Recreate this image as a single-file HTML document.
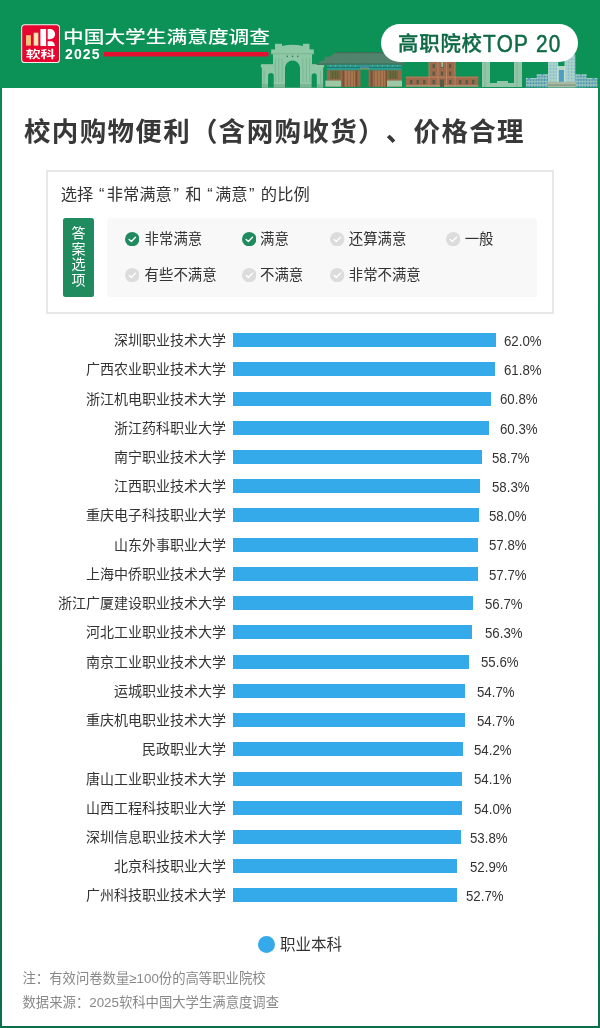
<!DOCTYPE html>
<html lang="zh-CN">
<head>
<meta charset="utf-8">
<title>校内购物便利（含网购收货）、价格合理</title>
<style>
*{margin:0;padding:0;box-sizing:border-box}
html,body{width:600px;height:1028px;overflow:hidden;background:#fff}
body{position:relative;text-spacing-trim:space-all;-webkit-font-smoothing:antialiased;font-family:"Liberation Sans","Noto Sans CJK SC",sans-serif;color:#333}
#root{position:absolute;left:0;top:0;width:600px;height:1028px;will-change:transform}
#frame{position:absolute;left:0;top:0;width:600px;height:1028px;background:linear-gradient(#0b8a4f 0,#088250 500px,#0a7049 1028px)}
#header{position:absolute;left:0;top:0;width:600px;height:88px;background:#0c9257}
.abs{position:absolute;white-space:nowrap}
#htitle{left:63px;top:25.5px;font-size:20px;line-height:28px;color:#fff;font-weight:500;transform-origin:0 0;transform:scale(1.035,0.83)}
#hyear{left:65px;top:45.5px;font-size:14px;line-height:16px;color:#fff;font-weight:700;letter-spacing:1.1px;font-family:"Liberation Sans",sans-serif}
#pill{left:381px;top:24px;width:197px;height:37.8px;border-radius:18.9px;background:#fff}
#pilltxt{left:398px;top:28px;font-size:20.4px;line-height:30px;color:#0f6a45;font-weight:500;letter-spacing:0.8px;-webkit-text-stroke:0.35px #0f6a45}
#pilltxt b{display:inline-block;position:relative;top:0.8px;font-family:"Liberation Sans",sans-serif;font-size:23.6px;font-weight:400;letter-spacing:1.5px;margin-left:0;transform-origin:0 60%;transform:scaleX(0.88);-webkit-text-stroke:0.5px #0f6a45}
#panel{position:absolute;left:2px;top:88px;width:596px;height:938px;background:#fff}
#title{left:24px;top:114px;font-size:26.5px;line-height:36px;letter-spacing:1.33px;font-weight:700;color:#383838}
#box{position:absolute;left:46px;top:170px;width:508px;height:144px;border:2px solid #e8e8e8}
#sub{left:60.7px;top:183px;font-size:16.3px;line-height:22px;color:#333}
.qo,.qc{display:inline-block;width:13.4px;font-family:"Liberation Sans",sans-serif}
.qo{text-align:right;padding-right:2.2px}
.qc{text-align:left;padding-left:1.6px}
#tag{position:absolute;left:63px;top:218px;width:31px;height:79px;background:#1f8b5f;border-radius:2.5px;color:#fff;font-size:14px;line-height:15.5px;text-align:center;padding-top:8px}
#gbox{position:absolute;left:106.7px;top:218px;width:430px;height:78.6px;background:#f8f8f8;border-radius:3px}
.it{position:absolute;font-size:14.4px;line-height:20px;color:#333;white-space:nowrap}
.ic{position:absolute;width:14.4px;height:14.4px}
.lb{position:absolute;right:374px;font-size:14px;line-height:22px;color:#333;white-space:nowrap;text-align:right}
.bar{position:absolute;left:233.3px;height:14px;background:#34aaea}
.vl{position:absolute;font-size:15.5px;line-height:22px;color:#333;white-space:nowrap;transform-origin:0 50%;transform:scaleX(0.855)}
#legdot{position:absolute;left:257.5px;top:935.5px;width:17.2px;height:17.2px;border-radius:50%;background:#34aaea}
#legtxt{left:280px;top:933.8px;font-size:15.5px;line-height:22px;color:#333}
.note{left:22.5px;font-size:13.35px;line-height:20px;color:#888}
</style>
</head>
<body>
<div id="root">
<div id="frame"></div>
<div id="header"></div>
<svg class="abs" style="left:0;top:0" width="600" height="88" viewBox="0 0 600 88">
  <rect x="104" y="51.9" width="164.4" height="4.6" fill="#e3102f"/>
  <!-- logo -->
  <rect x="21.2" y="24.2" width="38.8" height="38.8" rx="3.6" fill="#fbeef0"/>
  <rect x="22.2" y="25.2" width="36.8" height="36.8" rx="2.8" fill="#e6062f"/>
  <rect x="26" y="35.2" width="4.9" height="10.4" fill="#f6c27c"/>
  <rect x="33.7" y="32.7" width="4.6" height="12.9" fill="#fde5b3"/>
  <rect x="40.4" y="29" width="5.7" height="17" fill="#fff"/>
  <path d="M47.7 29H50A5.1 5.1 0 0 1 50 39.2H47.7Z" fill="#fff"/>
  <path d="M47.7 41.2H50.3Q54.8 41.2 54.8 46H47.7Z" fill="#fff"/>
  <text x="25.7" y="58.3" font-size="12" font-weight="700" fill="#fff" font-family="Liberation Sans, Noto Sans CJK SC, sans-serif" textLength="29.6" lengthAdjust="spacingAndGlyphs" transform="translate(0 58.3) scale(1 0.86) translate(0 -58.3)">软科</text>
</svg>
<div id="htitle" class="abs">中国大学生满意度调查</div>
<div id="hyear" class="abs">2025</div>
<svg class="abs" style="left:0;top:0" width="600" height="88" viewBox="0 0 600 88">
  <!-- Tsinghua gate -->
  <g fill="#8fc8a5">
    <rect x="275" y="43.8" width="7" height="7"/>
    <rect x="303" y="43.8" width="6.5" height="7"/>
    <path d="M282 50V46Q292.5 43.5 303 46V50Z"/>
    <rect x="271.2" y="49.4" width="42.6" height="4.4"/>
    <rect x="273" y="53.5" width="39" height="34"/>
    <rect x="261.9" y="64.4" width="11.5" height="23.1"/>
    <rect x="311.5" y="64.4" width="11.6" height="23.1"/>
    <rect x="260.8" y="64.4" width="13" height="3"/>
    <rect x="311.2" y="64.4" width="13" height="3"/>
  </g>
  <g fill="#7db694">
    <rect x="274.8" y="58" width="1" height="24"/>
    <rect x="278.2" y="58" width="1" height="24"/>
    <rect x="281.6" y="58" width="1" height="24"/>
    <rect x="302.4" y="58" width="1" height="24"/>
    <rect x="305.8" y="58" width="1" height="24"/>
    <rect x="309.2" y="58" width="1" height="24"/>
    <rect x="263.5" y="70" width="1.2" height="17"/>
    <rect x="320" y="70" width="1.2" height="17"/>
    <rect x="271.2" y="53.4" width="42.6" height="1"/>
    <rect x="273" y="84" width="39" height="3.5"/>
    <rect x="261.9" y="84" width="11.5" height="3.5"/>
    <rect x="311.5" y="84" width="11.6" height="3.5"/>
  </g>
  <g fill="#3f7a5c">
    <rect x="286.6" y="55.6" width="1.4" height="1.5"/>
    <rect x="291.8" y="55.6" width="1.4" height="1.5"/>
    <rect x="297" y="55.6" width="1.4" height="1.5"/>
  </g>
  <g fill="#0c9257">
    <path d="M285 87.6V68.1A7.5 7.5 0 0 1 300 68.1V87.6Z"/>
    <path d="M268.1 87.6V75.9A2.8 2.8 0 0 1 273.7 75.9V87.6Z"/>
    <path d="M311.6 87.6V75.9A2.6 2.6 0 0 1 316.8 75.9V87.6Z"/>
  </g>
  <!-- Chinese hall -->
  <defs>
    <pattern id="tile" x="0" y="0" width="2.2" height="10" patternUnits="userSpaceOnUse"><rect width="2.2" height="10" fill="#52836d"/><rect x="1.4" width="0.8" height="10" fill="#48786232"/></pattern>
    <pattern id="door" x="0" y="0" width="3" height="10" patternUnits="userSpaceOnUse"><rect width="3" height="10" fill="#a8774f"/><rect x="2.3" width="0.7" height="10" fill="#8a5c3d"/></pattern>
  </defs>
  <path d="M336.4 52.1H400L405 64.8H316.6L320 61.5L324.5 60.2L324.5 57L330 56.5Z" fill="url(#tile)"/>
  <path d="M336.4 52.1H398V53.2H335Z" fill="#3f6e59"/>
  <rect x="316.6" y="63.4" width="88" height="1.4" fill="#3f715b"/>
  <rect x="326.9" y="64.8" width="75" height="5.5" fill="#2b9c8e"/>
  <rect x="326.9" y="66.9" width="75" height="1.1" fill="#1d7b70"/>
  <g fill="#5fc0b0"><rect x="330" y="65.3" width="1" height="1.2"/><rect x="335" y="65.3" width="1" height="1.2"/><rect x="340" y="65.3" width="1" height="1.2"/><rect x="345" y="65.3" width="1" height="1.2"/><rect x="350" y="65.3" width="1" height="1.2"/><rect x="355" y="65.3" width="1" height="1.2"/><rect x="372" y="65.3" width="1" height="1.2"/><rect x="377" y="65.3" width="1" height="1.2"/><rect x="382" y="65.3" width="1" height="1.2"/><rect x="387" y="65.3" width="1" height="1.2"/><rect x="392" y="65.3" width="1" height="1.2"/><rect x="397" y="65.3" width="1" height="1.2"/></g>
  <rect x="326.9" y="70.3" width="75" height="16.4" fill="#98684a"/>
  <rect x="330" y="70.8" width="10.3" height="8.2" fill="#6b6a40"/>
  <rect x="387.8" y="70.8" width="10.3" height="8.2" fill="#6b6a40"/>
  <g fill="#57562f"><rect x="332.5" y="70.8" width="0.6" height="8.2"/><rect x="335" y="70.8" width="0.6" height="8.2"/><rect x="337.5" y="70.8" width="0.6" height="8.2"/><rect x="390.3" y="70.8" width="0.6" height="8.2"/><rect x="392.8" y="70.8" width="0.6" height="8.2"/><rect x="395.3" y="70.8" width="0.6" height="8.2"/></g>
  <rect x="325.3" y="80.6" width="15.7" height="6" fill="#9cc8a6"/>
  <rect x="387" y="80.6" width="15" height="6" fill="#9cc8a6"/>
  <rect x="344" y="71" width="11.4" height="15.6" fill="url(#door)"/>
  <rect x="373.6" y="71" width="11.9" height="15.6" fill="url(#door)"/>
  <g fill="#7a5035">
    <rect x="355.4" y="70.3" width="2" height="16.4"/>
    <rect x="370.6" y="70.3" width="2" height="16.4"/>
    <rect x="342.5" y="70.3" width="1.5" height="16.4"/>
    <rect x="385.5" y="70.3" width="1.5" height="16.4"/>
  </g>
  <rect x="360.5" y="68.5" width="8" height="18.2" fill="#0c9257"/>
  <rect x="360" y="65.6" width="9" height="3.2" fill="#3e8f9c"/>
  <rect x="360" y="68.6" width="9" height="0.8" fill="#b8a040"/>
  <!-- brown building -->
  <rect x="405.8" y="76.7" width="72.5" height="9.9" fill="#9e6a4c"/>
  <rect x="429" y="61" width="26" height="25.6" fill="#9e6a4c"/>
  <rect x="405.8" y="85.2" width="72.5" height="1.4" fill="#a99a7e"/>
  <rect x="405.8" y="76.7" width="72.5" height="1" fill="#b8805e"/>
  <g fill="#5a5a45">
    <rect x="410" y="80" width="2.4" height="4"/><rect x="416.5" y="80" width="2.4" height="4"/><rect x="423" y="80" width="2.4" height="4"/>
    <rect x="459" y="80" width="2.4" height="4"/><rect x="465.5" y="80" width="2.4" height="4"/><rect x="472" y="80" width="2.4" height="4"/>
    <rect x="432.5" y="64" width="2.4" height="4"/><rect x="440.8" y="64" width="2.4" height="4"/><rect x="449" y="64" width="2.4" height="4"/>
    <rect x="432.5" y="71.5" width="2.4" height="4"/><rect x="440.8" y="71.5" width="2.4" height="4"/><rect x="449" y="71.5" width="2.4" height="4"/>
    <rect x="432.5" y="80" width="2.4" height="4"/><rect x="440" y="79.5" width="4" height="7.6"/><rect x="449" y="80" width="2.4" height="4"/>
  </g>
  <g fill="#c08a68">
    <rect x="428.6" y="61" width="0.8" height="26"/><rect x="454.6" y="61" width="0.8" height="26"/>
    <rect x="437.6" y="61" width="0.8" height="26"/><rect x="446.2" y="61" width="0.8" height="26"/>
  </g>
  <rect x="441.3" y="61" width="1.6" height="6" fill="#8fc8a5"/>
  <!-- pale gate 2 -->
  <g fill="#93c5a8">
    <rect x="482" y="62" width="8" height="25"/>
    <rect x="514" y="62" width="8" height="25"/>
    <rect x="490" y="83" width="24" height="4"/>
    <rect x="497" y="81" width="11" height="4"/>
  </g>
  <g fill="#7fb596">
    <rect x="484.5" y="62" width="1" height="25"/><rect x="516.5" y="62" width="1" height="25"/>
  </g>
  <!-- modern building -->
  <defs>
    <pattern id="pw" x="0" y="0" width="3" height="3.2" patternUnits="userSpaceOnUse"><rect width="3" height="3.2" fill="#b4d8c6"/><rect x="0.6" y="0.6" width="1.9" height="2.1" fill="#86bccf"/></pattern>
    <pattern id="pw2" x="0" y="0" width="2.8" height="3.4" patternUnits="userSpaceOnUse"><rect width="2.8" height="3.4" fill="#a5cdbb"/><rect x="0.5" y="0.5" width="1.8" height="2.3" fill="#3e8db6"/></pattern>
  </defs>
  <rect x="525.9" y="78.6" width="71.5" height="8.6" fill="url(#pw2)"/>
  <rect x="536.7" y="74.8" width="50" height="12.4" fill="url(#pw2)"/>
  <rect x="525.9" y="78.3" width="10.8" height="0.8" fill="#c4e0d2"/>
  <rect x="586.7" y="78.3" width="10.8" height="0.8" fill="#c4e0d2"/>
  <rect x="536.7" y="74.5" width="11.3" height="0.8" fill="#c4e0d2"/>
  <rect x="575.3" y="74.5" width="11.4" height="0.8" fill="#c4e0d2"/>
  <rect x="548" y="60" width="9.5" height="27.2" fill="url(#pw)"/>
  <rect x="557.5" y="66" width="7.6" height="21.2" fill="#b4d8c6"/>
  <rect x="558.8" y="70" width="5.1" height="12" fill="#4f9dc4"/>
  <path d="M565.1 87.2V57L575.3 54.5V87.2Z" fill="url(#pw)"/>
  <rect x="557.2" y="60" width="0.9" height="27" fill="#d0e8dc"/>
  <rect x="564.6" y="57" width="0.9" height="30" fill="#d0e8dc"/>
  <rect x="547.4" y="81.7" width="28.5" height="5.5" fill="#a9b9a2"/>
  <rect x="547.4" y="84.6" width="28.5" height="0.9" fill="#6e8a76"/>
  <g fill="#3e8db6"><circle cx="529" cy="78.4" r="0.9"/><circle cx="542.4" cy="74.6" r="0.9"/><circle cx="581" cy="74.6" r="0.9"/><circle cx="593.6" cy="78.4" r="0.9"/></g>
</svg>

<div id="pill" class="abs"></div>
<div id="pilltxt" class="abs">高职院校<b>TOP 20</b></div>

<div id="panel"></div>
<div id="title" class="abs">校内购物便利（含网购收货）、价格合理</div>
<div id="box"></div>
<div id="sub" class="abs">选择<span class="qo">“</span>非常满意<span class="qc">”</span>和<span class="qo">“</span>满意<span class="qc">”</span>的比例</div>
<div id="tag">答<br>案<br>选<br>项</div>
<div id="gbox"></div>

<svg class="ic" style="left:125px;top:231.6px" viewBox="0 0 14 14"><circle cx="7" cy="7" r="7" fill="#1f8b5f"/><path d="M4 7.2L6.2 9.2L10.2 5.2" stroke="#fff" stroke-width="1.35" fill="none" stroke-linecap="round" stroke-linejoin="round"/></svg>
<div class="it" style="left:144.6px;top:229px">非常满意</div>
<svg class="ic" style="left:241.6px;top:231.6px" viewBox="0 0 14 14"><circle cx="7" cy="7" r="7" fill="#1f8b5f"/><path d="M4 7.2L6.2 9.2L10.2 5.2" stroke="#fff" stroke-width="1.35" fill="none" stroke-linecap="round" stroke-linejoin="round"/></svg>
<div class="it" style="left:260px;top:229px">满意</div>
<svg class="ic" style="left:330.2px;top:231.6px" viewBox="0 0 14 14"><circle cx="7" cy="7" r="7" fill="#dcdcdc"/><path d="M4 7.2L6.2 9.2L10.2 5.2" stroke="#fff" stroke-width="1.35" fill="none" stroke-linecap="round" stroke-linejoin="round"/></svg>
<div class="it" style="left:348.8px;top:229px">还算满意</div>
<svg class="ic" style="left:446px;top:231.6px" viewBox="0 0 14 14"><circle cx="7" cy="7" r="7" fill="#dcdcdc"/><path d="M4 7.2L6.2 9.2L10.2 5.2" stroke="#fff" stroke-width="1.35" fill="none" stroke-linecap="round" stroke-linejoin="round"/></svg>
<div class="it" style="left:464.7px;top:229px">一般</div>
<svg class="ic" style="left:125px;top:267.8px" viewBox="0 0 14 14"><circle cx="7" cy="7" r="7" fill="#dcdcdc"/><path d="M4 7.2L6.2 9.2L10.2 5.2" stroke="#fff" stroke-width="1.35" fill="none" stroke-linecap="round" stroke-linejoin="round"/></svg>
<div class="it" style="left:144.6px;top:265px">有些不满意</div>
<svg class="ic" style="left:241.6px;top:267.8px" viewBox="0 0 14 14"><circle cx="7" cy="7" r="7" fill="#dcdcdc"/><path d="M4 7.2L6.2 9.2L10.2 5.2" stroke="#fff" stroke-width="1.35" fill="none" stroke-linecap="round" stroke-linejoin="round"/></svg>
<div class="it" style="left:260px;top:265px">不满意</div>
<svg class="ic" style="left:330.2px;top:267.8px" viewBox="0 0 14 14"><circle cx="7" cy="7" r="7" fill="#dcdcdc"/><path d="M4 7.2L6.2 9.2L10.2 5.2" stroke="#fff" stroke-width="1.35" fill="none" stroke-linecap="round" stroke-linejoin="round"/></svg>
<div class="it" style="left:348.8px;top:265px">非常不满意</div>

<div class="lb" style="top:329.0px">深圳职业技术大学</div><div class="bar" style="top:333.0px;width:262.7px"></div><div class="vl" style="top:329.8px;left:503.5px">62.0%</div>
<div class="lb" style="top:358.2px">广西农业职业技术大学</div><div class="bar" style="top:362.2px;width:261.8px"></div><div class="vl" style="top:359.0px;left:503.5px">61.8%</div>
<div class="lb" style="top:387.5px">浙江机电职业技术大学</div><div class="bar" style="top:391.5px;width:257.6px"></div><div class="vl" style="top:388.3px;left:499.8px">60.8%</div>
<div class="lb" style="top:416.7px">浙江药科职业大学</div><div class="bar" style="top:420.7px;width:255.5px"></div><div class="vl" style="top:417.5px;left:499.8px">60.3%</div>
<div class="lb" style="top:445.9px">南宁职业技术大学</div><div class="bar" style="top:449.9px;width:248.7px"></div><div class="vl" style="top:446.7px;left:492.3px">58.7%</div>
<div class="lb" style="top:475.1px">江西职业技术大学</div><div class="bar" style="top:479.1px;width:247.0px"></div><div class="vl" style="top:475.9px;left:492.3px">58.3%</div>
<div class="lb" style="top:504.4px">重庆电子科技职业大学</div><div class="bar" style="top:508.4px;width:245.7px"></div><div class="vl" style="top:505.2px;left:488.5px">58.0%</div>
<div class="lb" style="top:533.6px">山东外事职业大学</div><div class="bar" style="top:537.6px;width:244.9px"></div><div class="vl" style="top:534.4px;left:488.5px">57.8%</div>
<div class="lb" style="top:562.8px">上海中侨职业技术大学</div><div class="bar" style="top:566.8px;width:244.5px"></div><div class="vl" style="top:563.6px;left:488.5px">57.7%</div>
<div class="lb" style="top:592.1px">浙江广厦建设职业技术大学</div><div class="bar" style="top:596.1px;width:240.2px"></div><div class="vl" style="top:592.9px;left:484.8px">56.7%</div>
<div class="lb" style="top:621.3px">河北工业职业技术大学</div><div class="bar" style="top:625.3px;width:238.5px"></div><div class="vl" style="top:622.1px;left:484.6px">56.3%</div>
<div class="lb" style="top:650.5px">南京工业职业技术大学</div><div class="bar" style="top:654.5px;width:235.6px"></div><div class="vl" style="top:651.3px;left:481.0px">55.6%</div>
<div class="lb" style="top:679.8px">运城职业技术大学</div><div class="bar" style="top:683.8px;width:231.8px"></div><div class="vl" style="top:680.6px;left:477.3px">54.7%</div>
<div class="lb" style="top:709.0px">重庆机电职业技术大学</div><div class="bar" style="top:713.0px;width:231.8px"></div><div class="vl" style="top:709.8px;left:477.3px">54.7%</div>
<div class="lb" style="top:738.2px">民政职业大学</div><div class="bar" style="top:742.2px;width:229.6px"></div><div class="vl" style="top:739.0px;left:473.5px">54.2%</div>
<div class="lb" style="top:767.5px">唐山工业职业技术大学</div><div class="bar" style="top:771.5px;width:229.2px"></div><div class="vl" style="top:768.2px;left:473.5px">54.1%</div>
<div class="lb" style="top:796.7px">山西工程科技职业大学</div><div class="bar" style="top:800.7px;width:228.8px"></div><div class="vl" style="top:797.5px;left:473.5px">54.0%</div>
<div class="lb" style="top:825.9px">深圳信息职业技术大学</div><div class="bar" style="top:829.9px;width:228.0px"></div><div class="vl" style="top:826.7px;left:469.8px">53.8%</div>
<div class="lb" style="top:855.1px">北京科技职业大学</div><div class="bar" style="top:859.1px;width:224.1px"></div><div class="vl" style="top:855.9px;left:469.8px">52.9%</div>
<div class="lb" style="top:884.4px">广州科技职业技术大学</div><div class="bar" style="top:888.4px;width:223.3px"></div><div class="vl" style="top:885.2px;left:466.0px">52.7%</div>

<div id="legdot"></div>
<div id="legtxt" class="abs">职业本科</div>
<div class="abs note" style="top:969px">注：有效问卷数量≥100份的高等职业院校</div>
<div class="abs note" style="top:993px">数据来源：2025软科中国大学生满意度调查</div>
</div>
</body>
</html>
